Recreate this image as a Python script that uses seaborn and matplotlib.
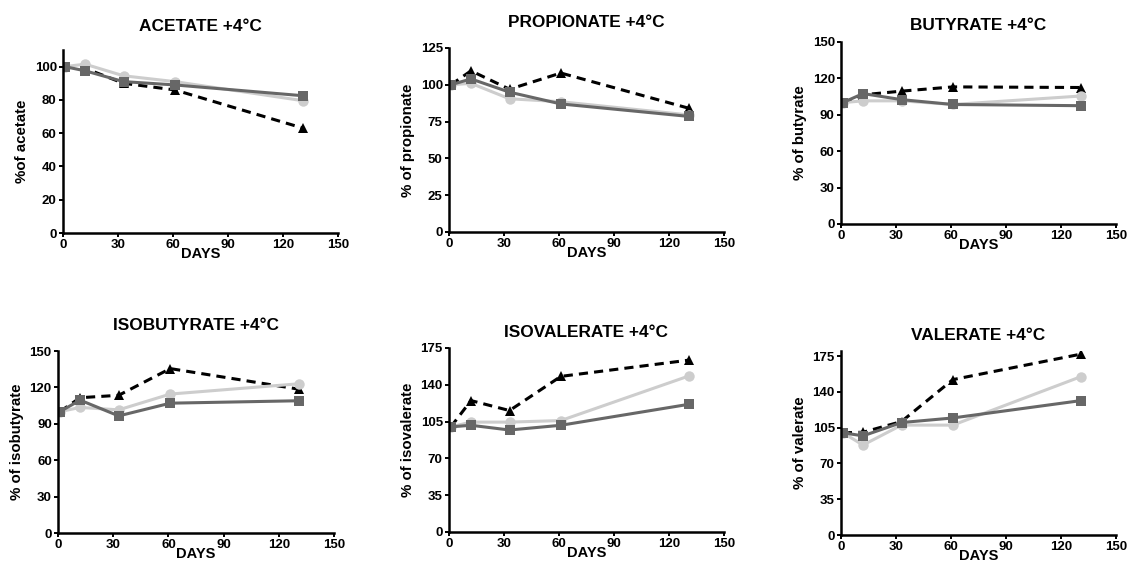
import matplotlib
matplotlib.use("Agg")
import matplotlib.pyplot as plt
import pandas as pd
import seaborn as sns

# Sampling days
days = [1, 12, 33, 61, 131]

# Percent of initial concentration, three storage conditions per acid
acetate_tri = [100, 99, 90, 86, 63]
acetate_sq = [100, 97.5, 91, 89, 82.5]
acetate_ci = [100, 101.5, 94.5, 91, 79.5]

propionate_tri = [100, 109.5, 97, 108, 84]
propionate_sq = [100, 104, 95, 87, 78.5]
propionate_ci = [100, 101, 90.5, 88.5, 79.5]

butyrate_tri = [100, 106.5, 109.5, 113, 112.5]
butyrate_sq = [100, 107.5, 102.5, 98.5, 97.5]
butyrate_ci = [100, 101.5, 101.5, 98.5, 105.5]

isobutyrate_tri = [100, 111.5, 113.5, 135.5, 118.5]
isobutyrate_sq = [100, 109.5, 96.5, 107, 109]
isobutyrate_ci = [100, 103.5, 101.5, 114.5, 123]

isovalerate_tri = [100, 125, 115.5, 148, 163.5]
isovalerate_sq = [100, 101.5, 97, 101.5, 121.5]
isovalerate_ci = [100, 104.5, 104.5, 106, 148.5]

valerate_tri = [100, 100.5, 111, 152, 177]
valerate_sq = [100, 97, 110, 114.5, 131.5]
valerate_ci = [100, 88, 107.5, 107.5, 155]

titles = ["ACETATE +4°C", "PROPIONATE +4°C", "BUTYRATE +4°C",
          "ISOBUTYRATE +4°C", "ISOVALERATE +4°C", "VALERATE +4°C"]
ylabels = ["%of acetate", "% of propionate", "% of butyrate",
           "% of isobutyrate", "% of isovalerate", "% of valerate"]
yticks = [[0, 20, 40, 60, 80, 100], [0, 25, 50, 75, 100, 125],
          [0, 30, 60, 90, 120, 150], [0, 30, 60, 90, 120, 150],
          [0, 35, 70, 105, 140, 175], [0, 35, 70, 105, 140, 175]]
ytops = [110, 125, 150, 150, 175, 180]
xticks = [0, 30, 60, 90, 120, 150]

series = [
    (acetate_tri, acetate_ci, acetate_sq),
    (propionate_tri, propionate_ci, propionate_sq),
    (butyrate_tri, butyrate_ci, butyrate_sq),
    (isobutyrate_tri, isobutyrate_ci, isobutyrate_sq),
    (isovalerate_tri, isovalerate_ci, isovalerate_sq),
    (valerate_tri, valerate_ci, valerate_sq),
]
names = ["tri", "ci", "sq"]

sns.set_theme(style="ticks")
plt.rcParams["font.family"] = ["Liberation Sans", "DejaVu Sans"]
plt.rcParams["font.weight"] = "bold"
plt.rcParams["axes.labelweight"] = "bold"
plt.rcParams["axes.titleweight"] = "bold"
plt.rcParams["text.color"] = "black"
plt.rcParams["axes.labelcolor"] = "black"
plt.rcParams["xtick.color"] = "black"
plt.rcParams["ytick.color"] = "black"

fig = plt.figure(figsize=(11.31, 5.61), dpi=100)

W, H = 1131, 561
# axes boxes in pixels: left, top, right, bottom
boxes = [(63, 50, 338, 233), (449, 48, 724, 232), (841, 42, 1116, 224),
         (58, 351, 334, 533), (449, 348, 724, 532), (841, 351, 1116, 535)]
title_pads = [14, 15, 9, 15, 8, 8]

palette = {"tri": "#000000", "ci": "#cdcdcd", "sq": "#676767"}
markers = {"tri": "^", "ci": "o", "sq": "s"}
dashes = {"tri": (3, 2), "ci": "", "sq": ""}

for i, (tri, ci, sq) in enumerate(series):
    l, t, r, b = boxes[i]
    ax = fig.add_axes([l / W, 1 - b / H, (r - l) / W, (b - t) / H])
    df = pd.DataFrame({
        "day": days * 3,
        "pct": tri + ci + sq,
        "cond": [n for n in names for _ in days],
    })
    sns.lineplot(data=df, x="day", y="pct", hue="cond", style="cond",
                 hue_order=names, style_order=names, palette=palette,
                 markers=markers, dashes=dashes, linewidth=2.2,
                 markersize=7.5, markeredgewidth=0, legend=False, ax=ax)
    ax.set_xlim(0, 150)
    ax.set_ylim(0, ytops[i])
    ax.set_xticks(xticks)
    ax.set_yticks(yticks[i])
    ax.tick_params(axis="both", labelsize=9.5, length=3, width=1.4, pad=1.5)
    for lab in ax.get_xticklabels() + ax.get_yticklabels():
        lab.set_fontweight("bold")
    ax.set_xlabel("DAYS", fontsize=10.5, fontweight="bold", labelpad=-3)
    ax.set_ylabel(ylabels[i], fontsize=10.8, fontweight="bold", labelpad=4)
    ax.set_title(titles[i], fontsize=12.4, fontweight="bold", pad=title_pads[i])
    for side in ("top", "right"):
        ax.spines[side].set_visible(False)
    for side in ("left", "bottom"):
        ax.spines[side].set_linewidth(1.8)
        ax.spines[side].set_color("black")
    ax.margins(0)

fig.savefig("out.png", dpi=100)
